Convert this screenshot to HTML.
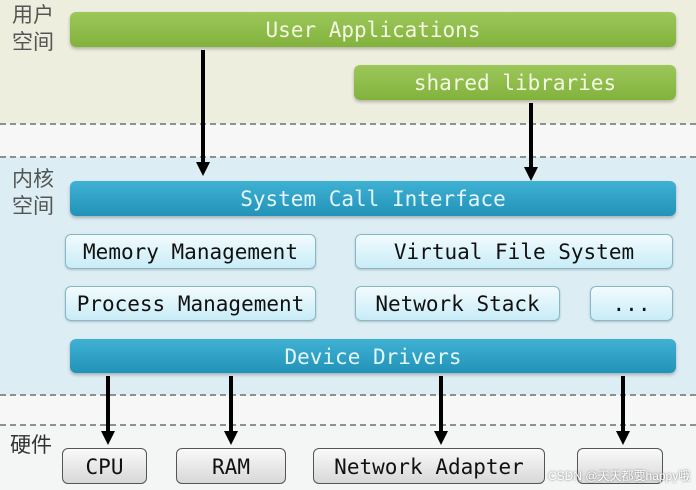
<!DOCTYPE html>
<html><head><meta charset="utf-8"><style>
body{margin:0;width:696px;height:490px;position:relative;overflow:hidden;background:#f7f7f7;font-family:"DejaVu Sans Mono","Liberation Mono",monospace}
.abs{position:absolute}
.g,.b,.l,.h{font-size:21px;white-space:nowrap}
.g{background:linear-gradient(#9cc75a,#82b23c);color:#f4f8e4;border-radius:6px;box-shadow:0 2px 3px rgba(0,0,0,.25);text-align:center}
.b{background:linear-gradient(#3fb1d3,#2293b8);color:#e4f6fb;border-radius:6px;box-shadow:0 2px 3px rgba(0,0,0,.25);text-align:center}
.l{background:linear-gradient(#f2fbfe,#c8ecf7);border:1px solid #86b8c8;border-radius:6px;box-shadow:0 1px 2px rgba(0,0,0,.2);text-align:center;color:#111;box-sizing:border-box}
.h{background:linear-gradient(#fafafa,#d8d8d8);border:1px solid #555;border-radius:6px;text-align:center;color:#111;box-sizing:border-box}
.zh{font-family:"Liberation Sans","Noto Sans CJK SC",sans-serif;font-size:21px;color:#555;line-height:27px}
.d{position:absolute;left:0;width:696px;border-top:2px dashed #8a948f}
</style></head><body>
<div class="abs" style="left:0;top:0;width:696px;height:124px;background:#eeeedf"></div>
<div class="abs" style="left:0;top:157px;width:696px;height:238px;background:#dcedf3"></div>
<div class="abs" style="left:0;top:425px;width:696px;height:65px;background:#f4f5f5"></div>
<div class="d" style="top:123px"></div>
<div class="d" style="top:156px"></div>
<div class="d" style="top:394px"></div>
<div class="d" style="top:424px"></div>
<div class="abs zh" style="left:12px;top:2px">用户<br>空间</div>
<div class="abs zh" style="left:12px;top:166px">内核<br>空间</div>
<div class="abs zh" style="left:10px;top:432px;color:#333">硬件</div>

<div class="abs g" style="left:70px;top:12px;width:606px;height:35px;line-height:37px">User Applications</div>
<div class="abs g" style="left:354px;top:65px;width:322px;height:35px;line-height:37px">shared libraries</div>
<div class="abs b" style="left:70px;top:181px;width:606px;height:35px;line-height:37px">System Call Interface</div>
<div class="abs l" style="left:65px;top:234px;width:251px;height:35px;line-height:35px">Memory Management</div>
<div class="abs l" style="left:355px;top:234px;width:318px;height:35px;line-height:35px">Virtual File System</div>
<div class="abs l" style="left:65px;top:286px;width:251px;height:35px;line-height:35px">Process Management</div>
<div class="abs l" style="left:355px;top:286px;width:205px;height:35px;line-height:35px">Network Stack</div>
<div class="abs l" style="left:590px;top:286px;width:83px;height:35px;line-height:35px">...</div>
<div class="abs b" style="left:70px;top:339px;width:606px;height:34px;line-height:36px">Device Drivers</div>
<div class="abs h" style="left:62px;top:448px;width:85px;height:36px;line-height:36px">CPU</div>
<div class="abs h" style="left:176px;top:448px;width:110px;height:36px;line-height:36px">RAM</div>
<div class="abs h" style="left:313px;top:448px;width:232px;height:36px;line-height:36px">Network Adapter</div>
<div class="abs h" style="left:577px;top:448px;width:86px;height:36px;line-height:36px"></div>
<div class="abs" style="left:548px;top:467px;font-family:'Liberation Sans','Noto Sans CJK SC',sans-serif;font-size:12px;color:#fff;text-shadow:0 0 2px #666">CSDN @天天都要happy哦</div>

<svg class="abs" style="left:0;top:0" width="696" height="490">
<g stroke="#000" stroke-width="4" fill="#000">
<line x1="203" y1="50" x2="203" y2="163"/><polygon points="196,162 210,162 203,176" stroke="none"/>
<line x1="531" y1="103" x2="531" y2="168"/><polygon points="524,167 538,167 531,181" stroke="none"/>
<line x1="108" y1="376" x2="108" y2="432"/><polygon points="101,431 115,431 108,445" stroke="none"/>
<line x1="231" y1="376" x2="231" y2="432"/><polygon points="224,431 238,431 231,445" stroke="none"/>
<line x1="441" y1="376" x2="441" y2="432"/><polygon points="434,431 448,431 441,445" stroke="none"/>
<line x1="623" y1="376" x2="623" y2="432"/><polygon points="616,431 630,431 623,445" stroke="none"/>
</g></svg>
</body></html>
